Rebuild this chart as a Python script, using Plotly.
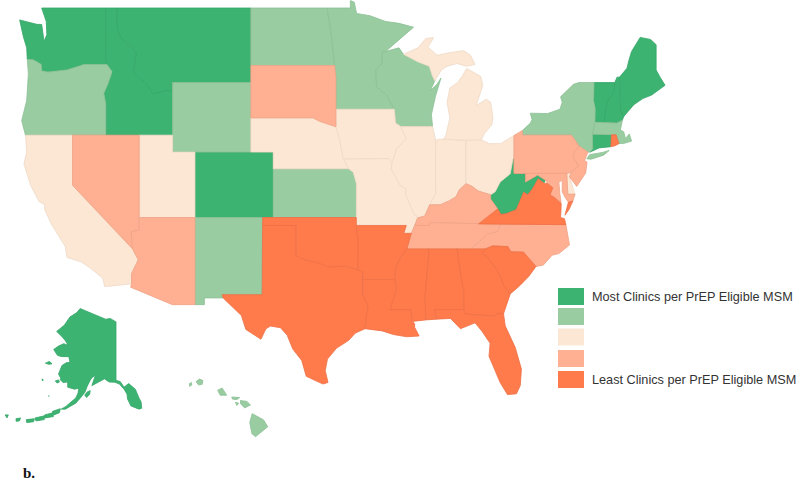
import math
import plotly.graph_objects as go

# Category of each state (5 = most clinics, 1 = least)
level_5 = ["WA", "MT", "ID", "CO", "WV", "ME", "NH", "VT", "CT", "AK"]
level_4 = ["OR", "WY", "ND", "MN", "WI", "KS", "NM", "NY", "MA", "HI"]
level_3 = ["CA", "UT", "NE", "IA", "MO", "IL", "IN", "OH", "MI", "DE"]
level_2 = ["NV", "AZ", "SD", "PA", "NJ", "MD", "KY", "TN", "NC"]
level_1 = ["TX", "OK", "AR", "LA", "MS", "AL", "GA", "SC", "FL", "VA", "RI"]
legend_labels = ["Most Clinics per PrEP Eligible MSM", "", "", "", "Least Clinics per PrEP Eligible MSM"]
footer_label = "<b>b.</b>"

# Approximate state outlines (longitude, latitude); the built-in Plotly basemap needs network access.
S = {}
S["WA"] = [[(-124.73,48.38),(-123.2,48.15),(-122.76,48.14),(-122.6,47.6),(-122.55,47.25),(-122.3,47.6),(-122.35,48.3),(-122.76,49),(-117.03,49),(-117.04,46.42),(-116.92,45.995),(-118.98,46),(-119.3,45.93),(-120.5,45.7),(-121.2,45.65),(-122.2,45.58),(-122.76,45.65),(-122.8,46),(-123.2,46.15),(-123.55,46.26),(-124.05,46.27),(-124.1,46.9),(-124.4,47.5)]]
S["OR"] = [[(-124.05,46.27),(-123.55,46.26),(-123.2,46.15),(-122.8,46),(-122.76,45.65),(-122.2,45.58),(-121.2,45.65),(-120.5,45.7),(-119.3,45.93),(-118.98,46),(-116.92,45.995),(-116.46,45.6),(-116.85,44.9),(-117.2,44.4),(-117.03,43.8),(-117.03,42),(-124.21,42),(-124.55,42.84),(-124.1,44),(-123.95,45.5)]]
S["CA"] = [[(-124.21,42),(-120,42),(-120,39),(-114.63,35),(-114.13,34.3),(-114.72,33.4),(-114.72,32.72),(-117.12,32.53),(-117.3,33.1),(-118.4,33.75),(-119.2,34.15),(-120.5,34.45),(-120.65,35.15),(-121.9,36.6),(-122.5,37.5),(-122.5,37.8),(-123,38),(-123.75,39),(-124.35,40.3),(-124.1,41)]]
S["NV"] = [[(-120,42),(-114.04,42),(-114.04,36.2),(-114.75,36.1),(-114.63,35),(-120,39)]]
S["ID"] = [[(-117.03,42),(-111.05,42),(-111.05,44.47),(-111.5,44.55),(-112.8,44.37),(-113.45,44.95),(-114.56,45.56),(-114.3,46.65),(-115.7,47.45),(-116.05,48),(-116.05,49),(-117.03,49),(-117.04,46.42),(-116.92,45.995),(-116.46,45.6),(-116.85,44.9),(-117.2,44.4),(-117.03,43.8)]]
S["MT"] = [[(-116.05,49),(-104.05,49),(-104.05,45),(-111.05,45),(-111.05,44.47),(-111.5,44.55),(-112.8,44.37),(-113.45,44.95),(-114.56,45.56),(-114.3,46.65),(-115.7,47.45),(-116.05,48)]]
S["WY"] = [[(-111.05,45),(-104.05,45),(-104.05,41),(-111.05,41)]]
S["UT"] = [[(-114.04,42),(-111.05,42),(-111.05,41),(-109.05,41),(-109.05,37),(-114.04,37)]]
S["CO"] = [[(-109.05,41),(-102.05,41),(-102.05,37),(-109.05,37)]]
S["AZ"] = [[(-114.04,37),(-109.05,37),(-109.05,31.33),(-111.07,31.33),(-114.81,32.5),(-114.72,32.72),(-114.72,33.4),(-114.13,34.3),(-114.63,35),(-114.75,36.1),(-114.04,36.2)]]
S["NM"] = [[(-109.05,37),(-103,37),(-103.04,32),(-106.62,32),(-106.53,31.78),(-108.21,31.78),(-108.21,31.33),(-109.05,31.33)]]
S["ND"] = [[(-104.05,49),(-97.23,49),(-96.85,47.6),(-96.56,45.94),(-104.05,45.94)]]
S["SD"] = [[(-104.05,45.94),(-96.56,45.94),(-96.45,45.3),(-96.45,43.5),(-96.44,42.49),(-97.9,42.8),(-98.5,43),(-104.05,43)]]
S["NE"] = [[(-104.05,43),(-98.5,43),(-97.9,42.8),(-96.44,42.49),(-96.1,41.7),(-95.9,41),(-95.77,40.58),(-95.31,40),(-102.05,40),(-102.05,41),(-104.05,41)]]
S["KS"] = [[(-102.05,40),(-95.31,40),(-94.9,39.8),(-94.61,39.1),(-94.62,37),(-102.05,37)]]
S["OK"] = [[(-103,37),(-94.62,37),(-94.62,36.5),(-94.43,35.4),(-94.48,33.64),(-95.5,33.88),(-96.6,33.85),(-97.2,33.85),(-98.1,34.13),(-99.2,34.3),(-100,34.56),(-100,36.5),(-103,36.5)]]
S["TX"] = [[(-106.62,32),(-103.04,32),(-103,36.5),(-100,36.5),(-100,34.56),(-99.2,34.3),(-98.1,34.13),(-97.2,33.85),(-96.6,33.85),(-95.5,33.88),(-94.48,33.64),(-94.04,33.55),(-94.04,33),(-94.04,31.99),(-93.55,31.2),(-93.75,30.4),(-93.84,29.7),(-94.7,29.4),(-95.3,28.9),(-96.4,28.35),(-97.2,27.6),(-97.4,26.8),(-97.15,25.96),(-97.6,25.85),(-98.3,26.1),(-99.1,26.4),(-99.5,27.5),(-100.3,28.3),(-100.8,29.25),(-101.4,29.77),(-102.3,29.88),(-102.7,29.7),(-103.15,28.98),(-104.5,29.65),(-104.9,30.6),(-106.53,31.78)]]
S["MN"] = [[(-97.23,49),(-95.15,49),(-95.15,49.38),(-94.8,49.3),(-94.6,48.72),(-93.4,48.6),(-92,48.3),(-90.8,48.2),(-89.5,48),(-92,46.7),(-92.29,46.66),(-92.29,46.07),(-92.87,45.7),(-92.8,44.75),(-91.9,44.3),(-91.22,43.5),(-96.45,43.5),(-96.45,45.3),(-96.56,45.94),(-96.85,47.6)]]
S["IA"] = [[(-96.45,43.5),(-91.22,43.5),(-91.1,42.7),(-90.64,42.5),(-90.15,41.8),(-91,41.2),(-91.42,40.38),(-91.73,40.61),(-95.77,40.58),(-95.9,41),(-96.1,41.7),(-96.44,42.49)]]
S["MO"] = [[(-95.77,40.58),(-91.73,40.61),(-91.42,40.38),(-91.5,40),(-90.7,39),(-90.2,38.8),(-90.2,38.4),(-89.5,37.3),(-89.13,36.98),(-89.4,36.5),(-89.7,36),(-90.37,36),(-90.15,36.5),(-94.62,36.5),(-94.62,37),(-94.61,39.1),(-94.9,39.8),(-95.31,40)]]
S["AR"] = [[(-94.62,36.5),(-90.15,36.5),(-90.37,36),(-89.7,36),(-90.1,35),(-90.6,34.5),(-91.1,33.8),(-91.17,33),(-94.04,33),(-94.04,33.55),(-94.48,33.64),(-94.43,35.4)]]
S["LA"] = [[(-94.04,33),(-91.17,33),(-91,32.4),(-91.6,31),(-89.73,31),(-89.6,30.2),(-89.4,30.05),(-89.4,29.8),(-89,29.2),(-90.1,29.15),(-91.3,29.3),(-92.3,29.55),(-93.84,29.7),(-93.75,30.4),(-93.55,31.2),(-94.04,31.99)]]
S["MS"] = [[(-90.1,35),(-88.2,35),(-88.1,34.9),(-88.47,31.9),(-88.4,30.3),(-89.6,30.2),(-89.73,31),(-91.6,31),(-91,32.4),(-91.17,33),(-91.1,33.8),(-90.6,34.5)]]
S["AL"] = [[(-88.2,35),(-85.6,35),(-85.18,32.87),(-85,32.3),(-85,31),(-87.6,31),(-87.45,30.35),(-88.4,30.3),(-88.47,31.9),(-88.1,34.9)]]
S["GA"] = [[(-85.6,35),(-83.1,35),(-83.35,34.7),(-82.9,34.5),(-81.9,33.5),(-81.4,32.6),(-80.85,32.05),(-81.45,30.72),(-82,30.75),(-82.2,30.56),(-84.86,30.7),(-85,31),(-85,32.3),(-85.18,32.87)]]
S["FL"] = [[(-87.6,31),(-85,31),(-84.86,30.7),(-82.2,30.56),(-82,30.75),(-81.45,30.72),(-81.3,29.9),(-80.4,28.4),(-79.85,26.9),(-79.95,25.75),(-80.3,25.15),(-81.1,25.1),(-81.75,25.95),(-82.2,26.8),(-82.75,27.8),(-82.65,28.7),(-83.4,29.55),(-84,30.1),(-85.3,29.7),(-86.2,30.4),(-87.45,30.35)]]
S["SC"] = [[(-83.35,34.7),(-83.1,35),(-82.4,35.2),(-81.05,35.15),(-80.8,34.82),(-79.67,34.8),(-78.55,33.86),(-79.2,33.2),(-80,32.6),(-80.85,32.05),(-81.4,32.6),(-81.9,33.5),(-82.9,34.5)]]
S["NC"] = [[(-75.87,36.55),(-81.68,36.59),(-82,36.1),(-82.9,35.95),(-84.32,35),(-83.1,35),(-82.4,35.2),(-81.05,35.15),(-80.8,34.82),(-79.67,34.8),(-78.55,33.86),(-77.9,33.95),(-77.1,34.6),(-76.5,34.7),(-75.55,35.25)]]
S["TN"] = [[(-90.1,35),(-89.7,36),(-89.4,36.5),(-88.07,36.5),(-88.07,36.68),(-83.68,36.6),(-81.68,36.59),(-82,36.1),(-82.9,35.95),(-84.32,35),(-85.6,35),(-88.2,35)]]
S["KY"] = [[(-89.4,36.5),(-89.13,36.98),(-88.5,37.1),(-88.05,37.8),(-87.1,37.8),(-86.3,38.05),(-85.7,38.3),(-85.4,38.73),(-84.8,39.1),(-84.3,38.95),(-83.7,38.65),(-82.6,38.42),(-82.6,38.15),(-81.97,37.54),(-83.68,36.6),(-88.07,36.68),(-88.07,36.5)]]
S["VA"] = [[(-83.68,36.6),(-81.68,36.59),(-75.87,36.55),(-76,36.93),(-76.35,37),(-76.3,37.6),(-76.3,37.9),(-77,38.3),(-77.3,38.4),(-77.05,38.85),(-77.5,39.1),(-77.83,39.13),(-78.35,39.4),(-78.87,38.77),(-79.3,38.42),(-79.65,38.59),(-80.3,37.5),(-81.22,37.24),(-81.68,37.2),(-81.97,37.54)],
           [(-75.95,37.15),(-75.65,37.95),(-75.25,38.03),(-75.6,37.5)]]
S["WV"] = [[(-82.6,38.42),(-82.2,38.6),(-81.75,39.2),(-80.85,39.7),(-80.6,40.62),(-80.52,40.64),(-80.52,39.72),(-79.48,39.72),(-79.48,39.2),(-78.4,39.62),(-77.72,39.32),(-77.83,39.13),(-78.35,39.4),(-78.87,38.77),(-79.3,38.42),(-79.65,38.59),(-80.3,37.5),(-81.22,37.24),(-81.68,37.2),(-81.97,37.54),(-82.6,38.15)]]
S["OH"] = [[(-84.82,41.7),(-83.45,41.73),(-82.7,41.5),(-81.7,41.5),(-80.52,41.98),(-80.52,40.64),(-80.6,40.62),(-80.85,39.7),(-81.75,39.2),(-82.2,38.6),(-82.6,38.42),(-83.7,38.65),(-84.3,38.95),(-84.82,39.1)]]
S["IN"] = [[(-87.52,41.7),(-87.2,41.76),(-86.8,41.76),(-84.82,41.7),(-84.82,39.1),(-85.4,38.73),(-85.7,38.3),(-86.3,38.05),(-87.1,37.8),(-88.05,37.8),(-87.5,38.5),(-87.53,39.35)]]
S["IL"] = [[(-90.64,42.5),(-87.8,42.5),(-87.52,41.7),(-87.53,39.35),(-87.5,38.5),(-88.05,37.8),(-88.5,37.1),(-89.13,36.98),(-89.5,37.3),(-90.2,38.4),(-90.2,38.8),(-90.7,39),(-91.5,40),(-91.42,40.38),(-91,41.2),(-90.15,41.8)]]
S["WI"] = [[(-92.29,46.66),(-92,46.7),(-90.8,46.9),(-90.4,46.55),(-89.1,46.14),(-88.1,45.9),(-87.8,45.35),(-87.6,45.1),(-88,44.55),(-87.4,44.9),(-87.05,45.25),(-87.55,44.2),(-87.9,43.2),(-87.8,42.5),(-90.64,42.5),(-91.1,42.7),(-91.22,43.5),(-91.9,44.3),(-92.8,44.75),(-92.87,45.7),(-92.29,46.07)]]
S["MI"] = [[(-86.8,41.76),(-84.82,41.7),(-83.45,41.73),(-83.15,42.1),(-82.5,42.6),(-82.4,43),(-82.6,43.9),(-83,44.07),(-83.9,43.7),(-83.3,44.85),(-83.5,45.35),(-84.75,45.78),(-85.1,45.4),(-85.55,45),(-86.25,44.7),(-86.5,43.9),(-86.25,43),(-86.6,42)],
           [(-90.4,46.55),(-89.1,46.9),(-88.4,47.4),(-87.7,47.45),(-88.2,46.95),(-87.4,46.5),(-86.2,46.65),(-85,46.75),(-84.4,46.5),(-84,46),(-84.75,45.9),(-85.6,46.05),(-86.5,45.9),(-87,45.7),(-87.6,45.1),(-87.8,45.35),(-88.1,45.9),(-89.1,46.14)]]
S["PA"] = [[(-80.52,41.98),(-79.76,42.27),(-79.76,42),(-75.35,42),(-74.7,41.36),(-75.13,40.98),(-75.2,40.68),(-74.72,40.15),(-75.4,39.8),(-75.79,39.72),(-80.52,39.72)]]
S["NY"] = [[(-79.76,42.27),(-79.05,42.7),(-78.9,42.9),(-79.05,43.27),(-77.5,43.25),(-76.4,43.5),(-76.2,43.9),(-76.35,44.2),(-75.2,44.9),(-74.7,45),(-73.35,45),(-73.4,44),(-73.25,43.55),(-73.27,42.75),(-73.5,42.05),(-73.48,41.2),(-73.7,41),(-73.9,41),(-74.7,41.36),(-75.35,42),(-79.76,42)],
           [(-74,40.6),(-73.75,40.85),(-72.6,40.98),(-72,41.1),(-72.5,40.82),(-73.6,40.58)]]
S["VT"] = [[(-73.35,45),(-71.5,45),(-71.55,44.5),(-72.05,44.1),(-72.3,43.6),(-72.46,42.73),(-73.27,42.75),(-73.25,43.55),(-73.4,44)]]
S["NH"] = [[(-71.5,45),(-71.3,45.3),(-71.08,45.3),(-70.98,43.4),(-70.7,43.08),(-70.82,42.87),(-71.3,42.7),(-72.46,42.73),(-72.3,43.6),(-72.05,44.1),(-71.55,44.5)]]
S["ME"] = [[(-71.08,45.3),(-70.4,45.8),(-70.25,46.2),(-70,46.7),(-69.23,47.46),(-68.3,47.35),(-67.8,47.07),(-67.8,45.7),(-67.45,45.3),(-67,44.85),(-68.2,44.3),(-69,44.1),(-69.8,43.75),(-70.7,43.08),(-70.98,43.4)]]
S["MA"] = [[(-73.5,42.05),(-71.8,42.02),(-71.38,42.02),(-71.13,41.5),(-70.65,41.52),(-70,41.65),(-70.2,42.07),(-70.55,41.8),(-70.7,42.2),(-71,42.3),(-70.82,42.87),(-71.3,42.7),(-72.46,42.73),(-73.27,42.75)]]
S["CT"] = [[(-73.5,42.05),(-71.8,42.02),(-71.85,41.32),(-72.9,41.25),(-73.7,41),(-73.48,41.2)]]
S["RI"] = [[(-71.8,42.02),(-71.38,42.02),(-71.13,41.5),(-71.5,41.37),(-71.85,41.32)]]
S["NJ"] = [[(-74.7,41.36),(-73.9,41),(-74.2,40.5),(-73.98,40.4),(-74.1,39.75),(-74.9,38.93),(-75.55,39.5),(-75.4,39.8),(-74.72,40.15),(-75.2,40.68),(-75.13,40.98)]]
S["DE"] = [[(-75.79,39.72),(-75.4,39.8),(-75.55,39.5),(-75.05,38.45),(-75.7,38.46)]]
S["MD"] = [[(-79.48,39.72),(-75.79,39.72),(-75.7,38.46),(-75.05,38.45),(-75.25,38.03),(-75.65,37.95),(-75.9,38.2),(-76.2,38.6),(-76.2,39.3),(-76.5,39.2),(-76.4,38.4),(-76.3,37.95),(-77,38.3),(-77.3,38.4),(-77.05,38.85),(-77.5,39.1),(-77.72,39.32),(-78.4,39.62),(-79.48,39.2)]]
S["AK"] = [[(-141,69.65),(-143.5,70.1),(-145.5,70),(-148.5,70.4),(-152,70.85),(-156.6,71.35),(-158,70.85),(-161,70.3),(-163.5,69.2),(-166.8,68.35),(-164.5,67.6),(-163,67),(-161.8,66.3),(-163.7,66.55),(-166,66.2),(-168.1,65.65),(-166.4,64.7),(-164.5,64.5),(-161.5,64.5),(-161,63.5),(-162.5,63.5),(-164.5,63),(-165.5,62),(-166,61.5),(-165,60.7),(-165.4,60.5),(-164,59.9),(-162,60),(-162,59),(-159,58.6),(-157.2,58.8),(-157.5,57.8),(-158.5,56.8),(-160.5,55.9),(-162.8,55),(-164.8,54.4),(-163,54.4),(-161,55),(-158.5,55.7),(-156.5,56.8),(-154.5,58),(-153.5,59.2),(-152,60.5),(-151,61),(-150,61.2),(-151.5,59.3),(-149.5,59.8),(-148,60.2),(-146,60.6),(-144,60),(-141.5,59.95),(-139.5,59.6),(-137.5,58.6),(-136.2,57.6),(-136,56.6),(-134.5,55.1),(-131,54.4),(-129.8,54.6),(-130.1,56),(-131,56.8),(-132.6,58.6),(-135.5,59.7),(-137.5,59),(-139.2,60.1),(-141,60.3)],
           [(-154.6,57.4),(-153.4,58.1),(-152.2,58.3),(-152.5,57.5),(-153.8,56.9)],
           [(-171.7,63.4),(-170,63.7),(-168.8,63.3),(-170.2,63.2)],
           [(-167.4,60.2),(-166,60.4),(-165.6,60),(-166.6,59.8)],
           [(-173.2,60.6),(-172.6,60.4),(-172.9,60.2)],
           [(-170.4,57.2),(-170,57.2),(-170.2,57.05)],
           [(-168.6,53.9),(-165.2,54.5),(-165.6,53.6),(-168,53.1)],
           [(-172,53.1),(-168.4,53.6),(-168.2,52.7),(-171.8,52.4)],
           [(-176.2,52.4),(-172,52.9),(-172.2,52),(-175.8,51.7)],
           [(-180,52),(-176.5,52.2),(-176.8,51.5),(-179.8,51.3)],
           [(-184.5,52.2),(-182.5,52.4),(-183,51.7),(-184.4,51.6)],
           [(-189.2,53.1),(-187.8,53.1),(-188.4,52.4)]]
S["HI"] = [[(-155.88,20.25),(-155.1,19.9),(-154.8,19.5),(-155.65,18.93),(-155.9,19.1),(-156.05,19.75)],
           [(-156.7,21),(-156.25,20.95),(-156,20.75),(-156.4,20.58),(-156.68,20.8)],
           [(-157.3,21.2),(-156.75,21.17),(-156.95,21.05),(-157.25,21.08)],
           [(-157.05,20.9),(-156.82,20.85),(-156.95,20.72)],
           [(-158.28,21.58),(-157.97,21.71),(-157.65,21.3),(-158.1,21.3)],
           [(-159.78,22.07),(-159.55,22.22),(-159.3,22.13),(-159.35,21.92),(-159.6,21.88)],
           [(-160.25,21.95),(-160.1,22.02),(-160.08,21.88),(-160.22,21.8)]]

level_colors = {5: "#3DB372", 4: "#99CCA0", 3: "#FBE7D4", 2: "#FFB092", 1: "#FF7B4C"}
border_colors = {5: "#35A668", 4: "#8CC095", 3: "#EFD9C6", 2: "#EFA386", 1: "#EE7046"}
levels = {5: level_5, 4: level_4, 3: level_3, 2: level_2, 1: level_1}


def merc(lat):
    return math.log(math.tan(math.pi / 4 + math.radians(lat) / 2))


def project(state, lon, lat):
    if state == "AK":
        return 116 + 2.3 * (lon + 141), 382 + 150 * (merc(60) - merc(lat))
    if state == "HI":
        return 190 + 14.4 * (lon + 160.2), 382 + 940 * (merc(22.05) - merc(lat))
    return 20 + 11.18 * (lon + 124.7), 8 + 728 * (merc(49) - merc(lat))


fig = go.Figure()
for level, names in levels.items():
    for name in names:
        xs, ys = [], []
        for ring in S[name]:
            pts = [project(name, lon, lat) for lon, lat in ring + ring[:1]]
            xs += [p[0] for p in pts] + [None]
            ys += [p[1] for p in pts] + [None]
        fig.add_trace(go.Scatter(x=xs, y=ys, mode="lines", fill="toself", name=name,
                                 fillcolor=level_colors[level],
                                 line=dict(color=border_colors[level], width=0.8),
                                 hoverinfo="name", showlegend=False))

swatch_top = [288, 308, 328.5, 350, 371]
for top, level, label in zip(swatch_top, [5, 4, 3, 2, 1], legend_labels):
    fig.add_shape(type="rect", x0=558, x1=584, y0=top, y1=top + 17,
                  fillcolor=level_colors[level], line_width=0)
    if label:
        fig.add_annotation(x=590, y=top + 8.5, text=label, showarrow=False, xanchor="left",
                           font=dict(family="Liberation Sans", size=12.7, color="#333333"))
fig.add_annotation(x=21, y=473, text=footer_label, showarrow=False, xanchor="left",
                   font=dict(family="Liberation Serif", size=15, color="#111111"))

fig.update_xaxes(range=[0, 800], visible=False, fixedrange=True)
fig.update_yaxes(range=[480, 0], visible=False, fixedrange=True)
fig.update_layout(width=800, height=480, margin=dict(l=0, r=0, t=0, b=0),
                  paper_bgcolor="white", plot_bgcolor="white")
fig.write_html("out.html", config={"displayModeBar": False},
               post_script="document.body.style.margin='0';document.documentElement.style.overflow='hidden';")
